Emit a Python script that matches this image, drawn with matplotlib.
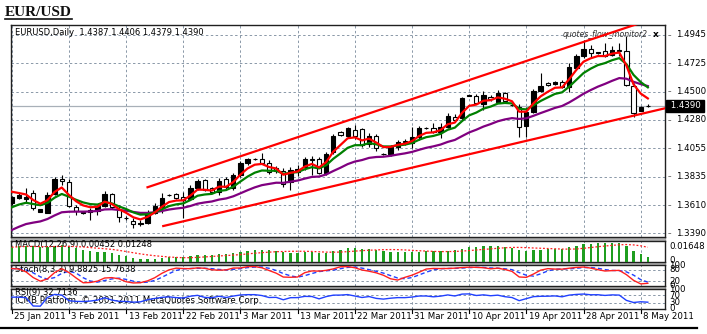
import numpy as np
import pandas as pd
import matplotlib
matplotlib.use("Agg")
import matplotlib.pyplot as plt
from matplotlib.transforms import blended_transform_factory
from matplotlib.lines import Line2D

# EURUSD daily bars, 25 Jan 2011 .. 9 May 2011 (Sunday sessions included)
opens = [1.3625, 1.3664, 1.3661, 1.3708, 1.3559, 1.3551, 1.3698, 1.3813, 1.3795, 1.3598,
         1.3547, 1.3559, 1.3567, 1.3604, 1.3698, 1.3584, 1.3512, 1.3489, 1.3460, 1.3473,
         1.3549, 1.3594, 1.3690, 1.3696, 1.3672, 1.3657, 1.3743, 1.3808, 1.3743, 1.3716,
         1.3812, 1.3743, 1.3847, 1.3939, 1.3975, 1.3970, 1.3939, 1.3900, 1.3881, 1.3794,
         1.3873, 1.3907, 1.3975, 1.3970, 1.3865, 1.4027, 1.4186, 1.4153, 1.4200, 1.4205,
         1.4090, 1.4153, 1.4014, 1.4012, 1.4064, 1.4110, 1.4096, 1.4147, 1.4213, 1.4213,
         1.4187, 1.4226, 1.4304, 1.4292, 1.4470, 1.4466, 1.4404, 1.4461, 1.4422, 1.4488,
         1.4397, 1.4382, 1.4231, 1.4343, 1.4508, 1.4571, 1.4560, 1.4578, 1.4539, 1.4684,
         1.4780, 1.4832, 1.4808, 1.4822, 1.4787, 1.4825, 1.4819, 1.4545, 1.4351, 1.4387]
highs = [1.3682, 1.3708, 1.3743, 1.3729, 1.3583, 1.3716, 1.3829, 1.3847, 1.3813, 1.3612,
         1.3565, 1.3586, 1.3612, 1.3724, 1.3708, 1.3612, 1.3526, 1.3510, 1.3494, 1.3573,
         1.3627, 1.3706, 1.3698, 1.3706, 1.3714, 1.3769, 1.3816, 1.3816, 1.3750, 1.3824,
         1.3831, 1.3863, 1.3957, 1.3980, 1.3980, 1.4019, 1.3965, 1.3918, 1.3902, 1.3907,
         1.3925, 1.3990, 1.3996, 1.3988, 1.4027, 1.4168, 1.4190, 1.4223, 1.4239, 1.4216,
         1.4174, 1.4168, 1.4020, 1.4082, 1.4121, 1.4129, 1.4226, 1.4231, 1.4220, 1.4252,
         1.4252, 1.4333, 1.4325, 1.4462, 1.4478, 1.4482, 1.4508, 1.4474, 1.4513, 1.4498,
         1.4405, 1.4403, 1.4382, 1.4521, 1.4644, 1.4580, 1.4585, 1.4592, 1.4723, 1.4796,
         1.4905, 1.4866, 1.4815, 1.4880, 1.4858, 1.4882, 1.4937, 1.4568, 1.4385, 1.4406]
lows = [1.3612, 1.3657, 1.3627, 1.3573, 1.3555, 1.3547, 1.3690, 1.3769, 1.3594, 1.3533,
        1.3540, 1.3494, 1.3533, 1.3594, 1.3578, 1.3479, 1.3494, 1.3429, 1.3447, 1.3463,
        1.3541, 1.3549, 1.3682, 1.3659, 1.3510, 1.3651, 1.3729, 1.3722, 1.3710, 1.3690,
        1.3737, 1.3729, 1.3831, 1.3925, 1.3968, 1.3937, 1.3855, 1.3863, 1.3751, 1.3729,
        1.3839, 1.3886, 1.3847, 1.3855, 1.3847, 1.4012, 1.4155, 1.4137, 1.4127, 1.4067,
        1.4064, 1.4038, 1.4006, 1.3996, 1.4043, 1.4082, 1.4056, 1.4121, 1.4205, 1.4174,
        1.4135, 1.4216, 1.4262, 1.4278, 1.4465, 1.4404, 1.4357, 1.4427, 1.4411, 1.4411,
        1.4390, 1.4143, 1.4147, 1.4333, 1.4498, 1.4545, 1.4555, 1.4529, 1.4500, 1.4674,
        1.4762, 1.4774, 1.4798, 1.4774, 1.4780, 1.4780, 1.4545, 1.4304, 1.4345, 1.4379]
closes = [1.3672, 1.3690, 1.3678, 1.3586, 1.3578, 1.3690, 1.3813, 1.3800, 1.3604, 1.3567,
          1.3559, 1.3573, 1.3604, 1.3698, 1.3594, 1.3518, 1.3508, 1.3463, 1.3473, 1.3549,
          1.3604, 1.3664, 1.3691, 1.3664, 1.3651, 1.3743, 1.3802, 1.3729, 1.3716, 1.3802,
          1.3753, 1.3847, 1.3939, 1.3970, 1.3972, 1.3943, 1.3873, 1.3881, 1.3776, 1.3886,
          1.3892, 1.3970, 1.3965, 1.3865, 1.4012, 1.4153, 1.4161, 1.4213, 1.4153, 1.4082,
          1.4153, 1.4056, 1.4012, 1.4069, 1.4108, 1.4106, 1.4143, 1.4213, 1.4215, 1.4187,
          1.4226, 1.4313, 1.4278, 1.4448, 1.4472, 1.4414, 1.4474, 1.4440, 1.4488, 1.4430,
          1.4395, 1.4221, 1.4343, 1.4508, 1.4545, 1.4553, 1.4578, 1.4539, 1.4696, 1.4780,
          1.4832, 1.4801, 1.4806, 1.4780, 1.4827, 1.4820, 1.4553, 1.4335, 1.4378, 1.4390]

date_labels = ["25 Jan 2011", "3 Feb 2011", "13 Feb 2011", "22 Feb 2011", "3 Mar 2011",
               "13 Mar 2011", "22 Mar 2011", "31 Mar 2011", "10 Apr 2011", "19 Apr 2011",
               "28 Apr 2011", "8 May 2011"]
label_step = 8
price_ticks = [1.3390, 1.3610, 1.3835, 1.4055, 1.4280, 1.4500, 1.4725, 1.4945]
bid = 1.4390

# moving average values on the first bar
ma_start = {"red": 1.3716, "green": 1.3594, "purple": 1.3416}
ma_period = {"red": 4, "green": 8, "purple": 21}
ma_color = {"red": "#ff0000", "green": "#008000", "purple": "#800080"}

# MACD state on the first bar, scale top
macd_fast_start, macd_slow_start = 1.3470, 1.3345
macd_top = 0.01648

# indicator readings shown for the current bar
macd_now, signal_now = 0.00452, 0.01248
stoch_k_now, stoch_d_now = 9.8825, 15.7638
rsi_now = 32.7136

# hand drawn channel (bar, price)
upper_channel = ([19.0, 90.0], [1.3751, 1.5077])
lower_channel = ([21.2, 91.4], [1.3447, 1.4370])


def ema(values, period, start):
    a = 2.0 / (period + 1)
    out = [start]
    for v in values[1:]:
        out.append(out[-1] + a * (v - out[-1]))
    return np.array(out)


W, H = 707, 334


def rect(x0, y0, x1, y1):
    return [x0 / W, 1 - y1 / H, (x1 - x0) / W, (y1 - y0) / H]


o = np.array(opens); hi = np.array(highs); lo = np.array(lows); c = np.array(closes)
n = len(c)
x = np.arange(n)
xlim = (-0.1, 91.4)
grid_col = "#8a98a8"
grid_ls = (0, (2.5, 2.5))
font = "DejaVu Sans"
lab_fs = 6.2

fig = plt.figure(figsize=(W / 100, H / 100), dpi=100)
fig.patch.set_facecolor("white")

ax = fig.add_axes(rect(11, 25, 665, 237))
ax_macd = fig.add_axes(rect(11, 241, 665, 262))
ax_sto = fig.add_axes(rect(11, 265, 665, 286))
ax_rsi = fig.add_axes(rect(11, 289, 665, 309))

for a in (ax, ax_macd, ax_sto, ax_rsi):
    a.set_xlim(*xlim)
    a.set_xticks([])
    a.set_yticks([])
    for s in a.spines.values():
        s.set_color("#202020")
        s.set_linewidth(1.0)
    for k in range(len(date_labels)):
        a.axvline(k * label_step, color=grid_col, lw=0.7, ls=grid_ls, zorder=0)

# grey splitter bands between the windows
for y0, y1 in [(237, 241), (262, 265), (286, 289)]:
    fig.patches.append(plt.Rectangle((11 / W, 1 - y1 / H), 654 / W, (y1 - y0) / H,
                                     transform=fig.transFigure, color="#b0b0b0", zorder=-1))

# ---- price window
ax.set_ylim(1.3361, 1.5023)
for t in price_ticks:
    ax.axhline(t, color=grid_col, lw=0.7, ls=grid_ls, zorder=0)
ax.axhline(bid, color="#a8b0b8", lw=0.9, zorder=1)

ax.vlines(x, lo, hi, color="black", lw=0.8, zorder=3)
bull = c >= o
body_lo = np.minimum(o, c)
body_h = np.abs(c - o)
ax.bar(x, body_h, bottom=body_lo, width=0.6,
       color=np.where(bull, "black", "white"), edgecolor="black", lw=0.8, zorder=4)

for key in ("purple", "green", "red"):
    ax.plot(x, ema(c, ma_period[key], ma_start[key]), color=ma_color[key], lw=1.6, zorder=5)

ax.plot(*upper_channel, color="#ff0000", lw=1.6, zorder=6)
ax.plot(*lower_channel, color="#ff0000", lw=1.6, zorder=6)

ytr = blended_transform_factory(ax.transAxes, ax.transData)
for t in price_ticks:
    ax.text(1.004, t, "–", transform=ytr, fontsize=5, va="center", ha="left", family=font)
    ax.text(1.017, t, f"{t:.4f}", transform=ytr, fontsize=lab_fs, va="center", ha="left",
            family=font)
ax.text(1.004, bid, f" {bid:.4f} ", transform=ytr, fontsize=lab_fs, va="center", ha="left",
        color="white", family=font,
        bbox=dict(boxstyle="square,pad=0.15", fc="black", ec="black"))

ax.text(0.006, 0.965,
        f"EURUSD,Daily  {opens[-1]:.4f} {highs[-1]:.4f} {lows[-1]:.4f} {closes[-1]:.4f}",
        transform=ax.transAxes, fontsize=6, va="center", ha="left", family=font)
ax.text(0.843, 0.955, "quotes_flow_monitor2", transform=ax.transAxes, fontsize=5.6,
        style="italic", va="center", ha="left", family=font, color="#303030")
ax.text(0.981, 0.955, "x", transform=ax.transAxes, fontsize=6.5, weight="bold",
        va="center", ha="left", family=font)

# ---- MACD(12,26,9): main as histogram, SMA(9) signal dotted
macd = ema(c, 12, macd_fast_start) - ema(c, 26, macd_slow_start)
macd[-1] = macd_now
signal = pd.Series(macd).rolling(9, min_periods=1).mean().values
signal[-1] = signal_now
ax_macd.set_ylim(0, macd_top * 1.08)
ax_macd.bar(x, macd, width=0.32, color="#1f9e1f", zorder=3)
ax_macd.plot(x, signal, color="#ff2020", lw=0.9, ls=(0, (1.5, 1.5)), zorder=4)
ax_macd.text(0.006, 0.82, f"MACD(12,26,9) {macd[-1]:.5f} {signal[-1]:.5f}",
             transform=ax_macd.transAxes, fontsize=6, va="center", ha="left", family=font)
ax_macd.text(1.006, 0.72, f"{macd_top:.5f}", transform=ax_macd.transAxes, fontsize=lab_fs,
             va="center", ha="left", family=font)
ax_macd.text(1.006, 0.08, "0", transform=ax_macd.transAxes, fontsize=lab_fs,
             va="center", ha="left", family=font)

# ---- Stochastic(8,3,3)
s_hi = pd.Series(hi).rolling(8, min_periods=1).max()
s_lo = pd.Series(lo).rolling(8, min_periods=1).min()
num = (pd.Series(c) - s_lo).rolling(3, min_periods=1).sum()
den = (s_hi - s_lo).rolling(3, min_periods=1).sum()
k_line = (100 * num / den).values
k_line[-1] = stoch_k_now
d_line = pd.Series(k_line).rolling(3, min_periods=1).mean().values
d_line[-1] = stoch_d_now
ax_sto.set_ylim(-4, 104)
for lvl in (20, 80):
    ax_sto.axhline(lvl, color=grid_col, lw=0.7, ls=grid_ls, zorder=0)
ax_sto.plot(x, k_line, color="#ff2020", lw=1.0, zorder=4)
ax_sto.plot(x, d_line, color="#2040ff", lw=1.0, ls=(0, (3, 2)), zorder=3)
ax_sto.text(0.006, 0.78, f"Stoch(8,3,3) {k_line[-1]:.4f} {d_line[-1]:.4f}",
            transform=ax_sto.transAxes, fontsize=6, va="center", ha="left", family=font)
str_ = blended_transform_factory(ax_sto.transAxes, ax_sto.transData)
for lvl in (100, 80, 20, 0):
    ax_sto.text(1.006, lvl, str(lvl), transform=str_, fontsize=lab_fs, va="center",
                ha="left", family=font)

# ---- RSI(9), Wilder smoothing
delta = pd.Series(c).diff().fillna(0)
gain = delta.clip(lower=0).ewm(alpha=1 / 9, adjust=False).mean()
loss = (-delta.clip(upper=0)).ewm(alpha=1 / 9, adjust=False).mean()
rsi = (100 - 100 / (1 + gain / loss.replace(0, np.nan))).fillna(60).values
rsi[-1] = rsi_now
ax_rsi.set_ylim(-4, 104)
for lvl in (30, 70):
    ax_rsi.axhline(lvl, color=grid_col, lw=0.7, ls=grid_ls, zorder=0)
ax_rsi.plot(x, rsi, color="#2040ff", lw=1.0, zorder=4)
ax_rsi.text(0.006, 0.82, f"RSI(9) {rsi[-1]:.4f}", transform=ax_rsi.transAxes,
            fontsize=6, va="center", ha="left", family=font)
ax_rsi.text(0.006, 0.42, "ICMB Platform, © 2001-2011 MetaQuotes Software Corp.",
            transform=ax_rsi.transAxes, fontsize=lab_fs, va="center", ha="left", family=font)
rtr = blended_transform_factory(ax_rsi.transAxes, ax_rsi.transData)
for lvl in (100, 70, 30, 0):
    ax_rsi.text(1.006, lvl, str(lvl), transform=rtr, fontsize=lab_fs, va="center",
                ha="left", family=font)

# date axis under the last window
btr = blended_transform_factory(ax_rsi.transData, ax_rsi.transAxes)
for k, lab in enumerate(date_labels):
    pos = k * label_step
    ax_rsi.plot([pos, pos], [0, -0.22], color="black", lw=0.8, transform=btr, clip_on=False)
    ax_rsi.text(pos + 0.35, -0.38, lab, transform=btr, fontsize=lab_fs, va="center",
                ha="left", family=font)

# heading
fig.text(5 / W, 1 - 12 / H, "EUR/USD", fontsize=11, weight="bold",
         family="Liberation Serif", va="center", ha="left", color="#101010")
fig.add_artist(Line2D([5 / W, 72 / W], [1 - 19 / H] * 2, color="#101010", lw=1.2))
fig.add_artist(Line2D([0, 697 / W], [1 - 327.5 / H] * 2, color="black", lw=1.6))

fig.savefig("out.png", dpi=100)
